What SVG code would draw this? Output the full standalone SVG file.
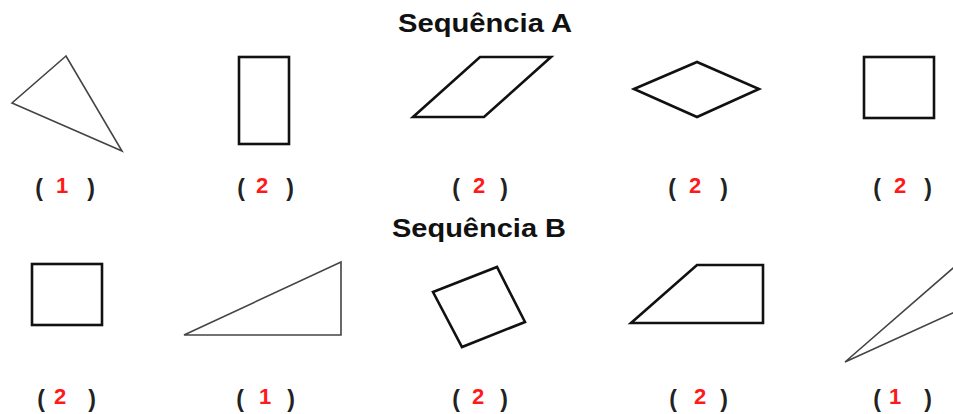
<svg xmlns="http://www.w3.org/2000/svg" width="953" height="414" viewBox="0 0 953 414">
<style>
.title{font-family:"Liberation Sans",Arial,sans-serif;font-weight:bold;font-size:26px;fill:#111}
.p{font-family:"Liberation Sans",Arial,sans-serif;font-weight:bold;font-size:23px;fill:#222;text-anchor:middle}
.n{font-family:"Liberation Sans",Arial,sans-serif;font-weight:bold;font-size:22px;fill:#ff1a1a;text-anchor:middle}
.thin{fill:none;stroke:#444;stroke-width:1.6;stroke-linejoin:miter}
.thick{fill:none;stroke:#111;stroke-width:2.6;stroke-linejoin:miter}
</style>
<rect width="953" height="414" fill="#fff"/>
<text class="title" x="398" y="32" textLength="174" lengthAdjust="spacingAndGlyphs">Sequência A</text>
<text class="title" x="392" y="237" textLength="174" lengthAdjust="spacingAndGlyphs">Sequência B</text>
<g id="a1"><polygon class="thin" points="66,56 12,103 122,151"/><text class="p" x="39" y="196">(</text><text class="n" x="62" y="193">1</text><text class="p" x="91" y="196">)</text></g>
<g id="a2"><rect class="thick" x="239" y="57" width="50" height="87"/><text class="p" x="241" y="196">(</text><text class="n" x="262" y="193">2</text><text class="p" x="290" y="196">)</text></g>
<g id="a3"><polygon class="thick" points="413,117 480,57 551,57 484,117"/><text class="p" x="456" y="196">(</text><text class="n" x="479" y="193">2</text><text class="p" x="504" y="196">)</text></g>
<g id="a4"><polygon class="thick" points="634,89 697,62 759,89 697,117"/><text class="p" x="672" y="196">(</text><text class="n" x="695" y="193">2</text><text class="p" x="724" y="196">)</text></g>
<g id="a5"><rect class="thick" x="864" y="57" width="70" height="61"/><text class="p" x="877" y="196">(</text><text class="n" x="900" y="193">2</text><text class="p" x="928" y="196">)</text></g>
<g id="b1"><rect class="thick" x="32" y="264" width="70" height="61"/><text class="p" x="41" y="407">(</text><text class="n" x="60" y="404">2</text><text class="p" x="92" y="407">)</text></g>
<g id="b2"><polygon class="thin" points="184,335 341,262 341,335"/><text class="p" x="240" y="407">(</text><text class="n" x="265" y="404">1</text><text class="p" x="291" y="407">)</text></g>
<g id="b3"><polygon class="thick" points="433,292 497,267 525,322 462,347"/><text class="p" x="456" y="407">(</text><text class="n" x="478" y="404">2</text><text class="p" x="504" y="407">)</text></g>
<g id="b4"><polygon class="thick" points="631,323 697,265 763,265 763,323"/><text class="p" x="673" y="407">(</text><text class="n" x="700" y="404">2</text><text class="p" x="724" y="407">)</text></g>
<g id="b5"><polygon class="thin" points="845,362 975,249 975,303"/><text class="p" x="877" y="407">(</text><text class="n" x="895" y="404">1</text><text class="p" x="928" y="407">)</text></g>
<g id="connectors"/>
</svg>
